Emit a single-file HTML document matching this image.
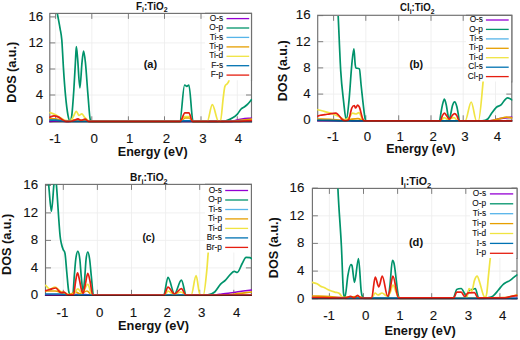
<!DOCTYPE html><html><head><meta charset="utf-8"><style>html,body{margin:0;padding:0;background:#fff;}svg{display:block;}text{font-family:"Liberation Sans",sans-serif;}</style></head><body>
<svg width="520" height="340" viewBox="0 0 520 340">
<rect width="520" height="340" fill="#fff"/>
<defs><clipPath id="c0"><rect x="49.20" y="13.4" width="202.90" height="109.30"/></clipPath></defs>
<path d="M49.8 16.9H251.5 M49.8 42.9H251.5 M49.8 69.0H251.5 M49.8 95.0H251.5 M55.6 13.4V121.8 M91.8 13.4V121.8 M128.4 13.4V121.8 M164.5 13.4V121.8 M201.0 13.4V121.8 M237.3 13.4V121.8" stroke="#ececec" stroke-width="0.8" fill="none"/>
<path d="M49.8 16.9h5.5M251.5 16.9h-5.5 M49.8 42.9h5.5M251.5 42.9h-5.5 M49.8 69.0h5.5M251.5 69.0h-5.5 M49.8 95.0h5.5M251.5 95.0h-5.5 M49.8 121.0h5.5M251.5 121.0h-5.5 M55.6 121.8v-5.5M55.6 13.4v5.5 M91.8 121.8v-5.5M91.8 13.4v5.5 M128.4 121.8v-5.5M128.4 13.4v5.5 M164.5 121.8v-5.5M164.5 13.4v5.5 M201.0 121.8v-5.5M201.0 13.4v5.5 M237.3 121.8v-5.5M237.3 13.4v5.5" stroke="#707070" stroke-width="0.9" fill="none"/>
<rect x="49.8" y="13.4" width="201.70" height="108.40" fill="none" stroke="#707070" stroke-width="1.15"/>
<g clip-path="url(#c0)" fill="none" stroke-width="1.7" stroke-linejoin="round" stroke-linecap="round" transform="translate(0,0.4)">
<path d="M49.80,121.00 C53.20,120.87 56.60,120.60 60.00,120.60 C62.00,120.60 64.00,121.00 66.00,121.00 C68.67,121.00 71.33,120.33 74.00,120.00 C75.33,119.83 76.67,119.50 78.00,119.50 C79.33,119.50 80.67,120.20 82.00,120.20 C83.33,120.20 84.67,119.80 86.00,119.80 C87.33,119.80 88.67,121.00 90.00,121.00 C137.33,121.00 184.67,121.00 232.00,121.00 C233.33,121.00 234.67,120.13 236.00,119.80 C238.00,119.30 240.00,118.91 242.00,118.60 C245.17,118.12 248.33,117.93 251.50,117.60" stroke="#9400d3"/>
<path d="M56.80,10.00 C57.00,11.13 57.20,12.29 57.40,13.40 C58.30,18.42 59.20,22.74 60.10,28.20 C60.67,31.64 61.23,33.01 61.80,39.50 C62.07,42.55 62.33,47.92 62.60,52.50 C62.87,57.08 63.13,62.81 63.40,67.00 C64.10,78.01 64.80,87.53 65.50,95.00 C66.33,103.89 67.17,110.46 68.00,115.00 C68.63,118.45 69.27,120.50 69.90,120.50 C70.53,120.50 71.17,119.87 71.80,115.00 C72.47,109.87 73.13,100.00 73.80,90.00 C74.33,82.00 74.87,71.32 75.40,62.00 C75.70,56.76 76.00,46.30 76.30,46.30 C76.73,46.30 77.17,53.27 77.60,58.00 C78.37,66.37 79.13,87.50 79.90,87.50 C80.60,87.50 81.30,68.70 82.00,62.00 C82.53,56.90 83.07,50.80 83.60,50.80 C84.20,50.80 84.80,56.33 85.40,62.00 C86.27,70.20 87.13,84.88 88.00,95.00 C88.77,103.95 89.53,117.20 90.30,119.50 C90.80,121.00 91.30,121.00 91.80,121.00 C121.13,121.00 150.47,121.00 179.80,121.00 C181.40,121.00 183.00,84.60 184.60,84.60 C185.33,84.60 186.07,85.90 186.80,85.90 C187.50,85.90 188.20,84.60 188.90,84.60 C190.23,84.60 191.57,118.68 192.90,120.50 C193.27,121.00 193.63,121.00 194.00,121.00 C203.73,121.00 213.47,121.00 223.20,121.00 C226.37,121.00 229.53,119.25 232.70,117.40 C234.27,116.49 235.83,115.40 237.40,113.70 C238.63,112.36 239.87,109.86 241.10,108.60 C242.37,107.31 243.63,107.06 244.90,106.10 C245.83,105.39 246.77,104.65 247.70,103.70 C248.97,102.41 250.23,100.70 251.50,99.20" stroke="#00936b"/>
<path d="M49.80,118.50 C51.53,118.50 53.27,118.50 55.00,118.50 C56.67,118.50 58.33,119.12 60.00,119.50 C62.00,119.95 64.00,121.00 66.00,121.00 C69.33,121.00 72.67,119.50 76.00,119.50 C78.67,119.50 81.33,119.69 84.00,120.00 C86.00,120.23 88.00,121.00 90.00,121.00 C120.33,121.00 150.67,121.00 181.00,121.00 C182.33,121.00 183.67,117.50 185.00,117.50 C186.33,117.50 187.67,117.50 189.00,117.50 C190.33,117.50 191.67,121.00 193.00,121.00 C204.67,121.00 216.33,121.00 228.00,121.00 C232.00,121.00 236.00,120.38 240.00,120.00 C243.83,119.64 247.67,119.20 251.50,118.80" stroke="#e69f00"/>
<path d="M49.80,112.20 C51.53,112.80 53.27,113.18 55.00,114.00 C56.67,114.79 58.33,116.00 60.00,117.00 C61.67,118.00 63.33,119.50 65.00,120.00 C66.67,120.50 68.33,120.50 70.00,120.50 C71.00,120.50 72.00,118.51 73.00,117.00 C74.10,115.34 75.20,110.90 76.30,110.90 C77.20,110.90 78.10,114.90 79.00,114.90 C79.93,114.90 80.87,113.50 81.80,113.50 C82.70,113.50 83.60,115.74 84.50,116.70 C85.67,117.94 86.83,119.26 88.00,120.00 C89.00,120.64 90.00,121.00 91.00,121.00 C120.83,121.00 150.67,121.00 180.50,121.00 C181.87,121.00 183.23,116.30 184.60,116.30 C186.07,116.30 187.53,116.30 189.00,116.30 C190.33,116.30 191.67,121.00 193.00,121.00 C197.73,121.00 202.47,121.00 207.20,121.00 C208.90,121.00 210.60,104.30 212.30,104.30 C214.37,104.30 216.43,121.00 218.50,121.00 C219.13,121.00 219.77,121.00 220.40,121.00 C221.33,121.00 222.27,104.88 223.20,97.70 C223.73,93.60 224.27,88.39 224.80,86.40 C225.53,83.67 226.27,84.48 227.00,83.50 C227.63,82.66 228.27,82.87 228.90,80.30 C229.43,78.13 229.97,73.43 230.50,70.00" stroke="#f0e442"/>
<path d="M49.80,119.60 C51.87,119.67 53.93,119.63 56.00,119.80 C58.00,119.97 60.00,120.40 62.00,120.60 C64.00,120.80 66.00,121.00 68.00,121.00 C105.33,121.00 142.67,121.00 180.00,121.00 C181.33,121.00 182.67,120.40 184.00,120.40 C186.00,120.40 188.00,120.40 190.00,120.40 C191.33,120.40 192.67,121.00 194.00,121.00 C213.17,121.00 232.33,121.00 251.50,121.00" stroke="#0072b2"/>
<path d="M49.80,116.70 C51.20,116.30 52.60,115.50 54.00,115.50 C55.33,115.50 56.67,115.92 58.00,116.50 C59.33,117.08 60.67,118.25 62.00,119.00 C63.33,119.75 64.67,121.00 66.00,121.00 C67.33,121.00 68.67,121.00 70.00,121.00 C71.33,121.00 72.67,120.42 74.00,120.00 C75.33,119.58 76.67,118.50 78.00,118.50 C79.00,118.50 80.00,120.00 81.00,120.00 C82.33,120.00 83.67,118.80 85.00,118.80 C86.33,118.80 87.67,121.00 89.00,121.00 C119.40,121.00 149.80,121.00 180.20,121.00 C181.77,121.00 183.33,112.50 184.90,112.50 C186.23,112.50 187.57,112.50 188.90,112.50 C190.10,112.50 191.30,121.00 192.50,121.00 C208.33,121.00 224.17,121.00 240.00,121.00 C243.83,121.00 247.67,120.47 251.50,120.20" stroke="#e51e10"/>
</g>
<rect x="205" y="13.4" width="46.5" height="66.9" fill="#fff"/>
<path d="M205 13.4H251.5V81.3" fill="none" stroke="#707070" stroke-width="1.15"/>
<path d="M49.2 122.0H252.1" fill="none" stroke="#000" stroke-opacity="0.45" stroke-width="1.1"/>
<text x="43.2" y="20.7" font-size="13.3" text-anchor="end" fill="#111" stroke="#111" stroke-width="0.1">16</text>
<text x="43.2" y="46.7" font-size="13.3" text-anchor="end" fill="#111" stroke="#111" stroke-width="0.1">12</text>
<text x="43.2" y="72.8" font-size="13.3" text-anchor="end" fill="#111" stroke="#111" stroke-width="0.1">8</text>
<text x="43.2" y="98.8" font-size="13.3" text-anchor="end" fill="#111" stroke="#111" stroke-width="0.1">4</text>
<text x="43.2" y="124.8" font-size="13.3" text-anchor="end" fill="#111" stroke="#111" stroke-width="0.1">0</text>
<text x="55.1" y="143.2" font-size="13.3" text-anchor="middle" fill="#111" stroke="#111" stroke-width="0.1">-1</text>
<text x="94.2" y="143.2" font-size="13.3" text-anchor="middle" fill="#111" stroke="#111" stroke-width="0.1">0</text>
<text x="129.8" y="143.2" font-size="13.3" text-anchor="middle" fill="#111" stroke="#111" stroke-width="0.1">1</text>
<text x="166.5" y="143.2" font-size="13.3" text-anchor="middle" fill="#111" stroke="#111" stroke-width="0.1">2</text>
<text x="203.0" y="143.2" font-size="13.3" text-anchor="middle" fill="#111" stroke="#111" stroke-width="0.1">3</text>
<text x="238.5" y="143.2" font-size="13.3" text-anchor="middle" fill="#111" stroke="#111" stroke-width="0.1">4</text>
<text transform="translate(15.5,72.25) rotate(-90)" x="0" y="0" font-size="12.5" font-weight="bold" text-anchor="middle" fill="#111" textLength="61" lengthAdjust="spacingAndGlyphs">DOS (a.u.)</text>
<text x="117.8" y="155.7" font-size="12.5" font-weight="bold" fill="#111" textLength="69.8" lengthAdjust="spacingAndGlyphs">Energy (eV)</text>
<text x="135.9" y="9.5" font-size="10.7" font-weight="bold" fill="#111" textLength="31.7" lengthAdjust="spacingAndGlyphs">F<tspan font-size="7.5" dy="2.8">i</tspan><tspan dy="-2.8">:TiO</tspan><tspan font-size="7.5" dy="2.8">2</tspan></text>
<text x="143.7" y="67.5" font-size="11.3" font-weight="bold" fill="#111" textLength="13.4" lengthAdjust="spacingAndGlyphs">(a)</text>
<text x="223.2" y="20.7" font-size="8.3" text-anchor="end" fill="#111" stroke="#111" stroke-width="0.1">O-s</text>
<path d="M226.5 18.6H249.2" stroke="#9400d3" stroke-width="1.3"/>
<text x="223.2" y="30.1" font-size="8.3" text-anchor="end" fill="#111" stroke="#111" stroke-width="0.1">O-p</text>
<path d="M226.5 28.0H249.2" stroke="#00936b" stroke-width="1.3"/>
<text x="223.2" y="39.5" font-size="8.3" text-anchor="end" fill="#111" stroke="#111" stroke-width="0.1">Ti-s</text>
<path d="M226.5 37.4H249.2" stroke="#56b4e9" stroke-width="1.3"/>
<text x="223.2" y="49.0" font-size="8.3" text-anchor="end" fill="#111" stroke="#111" stroke-width="0.1">Ti-p</text>
<path d="M226.5 46.9H249.2" stroke="#e69f00" stroke-width="1.3"/>
<text x="223.2" y="58.4" font-size="8.3" text-anchor="end" fill="#111" stroke="#111" stroke-width="0.1">Ti-d</text>
<path d="M226.5 56.3H249.2" stroke="#f0e442" stroke-width="1.3"/>
<text x="223.2" y="67.8" font-size="8.3" text-anchor="end" fill="#111" stroke="#111" stroke-width="0.1">F-s</text>
<path d="M226.5 65.7H249.2" stroke="#0072b2" stroke-width="1.3"/>
<text x="223.2" y="77.2" font-size="8.3" text-anchor="end" fill="#111" stroke="#111" stroke-width="0.1">F-p</text>
<path d="M226.5 75.1H249.2" stroke="#e51e10" stroke-width="1.3"/>
<defs><clipPath id="c1"><rect x="317.10" y="15.3" width="195.30" height="106.40"/></clipPath></defs>
<path d="M317.7 41.7H511.8 M317.7 67.9H511.8 M317.7 94.1H511.8 M333.6 15.3V120.8 M365.8 15.3V120.8 M398.7 15.3V120.8 M431.0 15.3V120.8 M463.2 15.3V120.8 M495.5 15.3V120.8" stroke="#ececec" stroke-width="0.8" fill="none"/>
<path d="M317.7 15.6h5.5M511.8 15.6h-5.5 M317.7 41.7h5.5M511.8 41.7h-5.5 M317.7 67.9h5.5M511.8 67.9h-5.5 M317.7 94.1h5.5M511.8 94.1h-5.5 M317.7 120.2h5.5M511.8 120.2h-5.5 M333.6 120.8v-5.5M333.6 15.3v5.5 M365.8 120.8v-5.5M365.8 15.3v5.5 M398.7 120.8v-5.5M398.7 15.3v5.5 M431.0 120.8v-5.5M431.0 15.3v5.5 M463.2 120.8v-5.5M463.2 15.3v5.5 M495.5 120.8v-5.5M495.5 15.3v5.5" stroke="#707070" stroke-width="0.9" fill="none"/>
<rect x="317.7" y="15.3" width="194.10" height="105.50" fill="none" stroke="#707070" stroke-width="1.15"/>
<g clip-path="url(#c1)" fill="none" stroke-width="1.7" stroke-linejoin="round" stroke-linecap="round" transform="translate(0,0.6)">
<path d="M317.70,120.00 C325.13,120.00 332.57,120.00 340.00,120.00 C342.00,120.00 344.00,119.20 346.00,119.20 C348.00,119.20 350.00,120.20 352.00,120.20 C398.00,120.20 444.00,120.20 490.00,120.20 C491.33,120.20 492.67,119.88 494.00,119.60 C496.00,119.18 498.00,118.39 500.00,118.00 C504.00,117.22 508.00,117.00 512.00,116.50" stroke="#9400d3"/>
<path d="M337.90,10.00 C338.00,11.93 338.10,13.75 338.20,15.80 C339.03,32.89 339.87,56.50 340.70,70.00 C341.63,85.12 342.57,91.77 343.50,100.00 C344.43,108.23 345.37,119.40 346.30,119.40 C347.20,119.40 348.10,109.02 349.00,100.00 C349.93,90.65 350.87,73.49 351.80,64.00 C352.50,56.88 353.20,48.30 353.90,48.30 C354.33,48.30 354.77,60.46 355.20,64.00 C355.47,66.18 355.73,67.31 356.00,67.40 C357.13,67.78 358.27,67.48 359.40,68.30 C359.97,68.71 360.53,79.23 361.10,84.40 C362.27,95.04 363.43,106.85 364.60,115.10 C364.87,116.99 365.13,118.82 365.40,119.40 C365.77,120.20 366.13,120.20 366.50,120.20 C390.83,120.20 415.17,120.20 439.50,120.20 C440.00,120.20 440.50,114.70 441.00,112.00 C441.50,109.30 442.00,106.04 442.50,104.00 C443.13,101.41 443.77,98.60 444.40,98.60 C445.00,98.60 445.60,101.30 446.20,104.00 C446.70,106.25 447.20,110.43 447.70,113.00 C448.20,115.57 448.70,119.40 449.20,119.40 C449.73,119.40 450.27,115.32 450.80,113.00 C451.37,110.53 451.93,106.81 452.50,105.00 C453.23,102.66 453.97,101.30 454.70,101.30 C455.40,101.30 456.10,103.47 456.80,106.00 C457.27,107.69 457.73,110.43 458.20,113.00 C458.60,115.20 459.00,120.20 459.40,120.20 C466.97,120.20 474.53,120.20 482.10,120.20 C484.00,120.20 485.90,120.12 487.80,118.40 C489.07,117.25 490.33,114.46 491.60,112.70 C493.17,110.53 494.73,108.10 496.30,106.70 C497.87,105.30 499.43,105.72 501.00,104.30 C502.23,103.19 503.47,100.77 504.70,99.50 C505.67,98.51 506.63,97.30 507.60,97.30 C509.07,97.30 510.53,98.63 512.00,99.30" stroke="#00936b"/>
<path d="M317.70,118.50 C321.80,118.60 325.90,118.59 330.00,118.80 C335.00,119.06 340.00,120.00 345.00,120.00 C347.33,120.00 349.67,118.85 352.00,118.50 C354.00,118.20 356.00,118.00 358.00,118.00 C360.00,118.00 362.00,120.20 364.00,120.20 C405.33,120.20 446.67,120.20 488.00,120.20 C489.20,120.20 490.40,120.09 491.60,119.90 C494.40,119.47 497.20,118.63 500.00,118.00 C502.20,117.50 504.40,116.50 506.60,116.50 C508.40,116.50 510.20,117.10 512.00,117.40" stroke="#e69f00"/>
<path d="M317.70,109.10 C320.13,109.73 322.57,110.32 325.00,111.00 C327.67,111.75 330.33,112.41 333.00,113.40 C335.33,114.27 337.67,115.42 340.00,116.50 C341.67,117.27 343.33,118.90 345.00,118.90 C346.33,118.90 347.67,118.13 349.00,117.00 C350.20,115.98 351.40,112.60 352.60,112.60 C353.73,112.60 354.87,113.40 356.00,113.40 C357.00,113.40 358.00,112.00 359.00,112.00 C360.00,112.00 361.00,116.63 362.00,118.00 C363.00,119.37 364.00,120.20 365.00,120.20 C390.33,120.20 415.67,120.20 441.00,120.20 C442.00,120.20 443.00,117.00 444.00,117.00 C445.33,117.00 446.67,119.00 448.00,119.00 C450.00,119.00 452.00,117.00 454.00,117.00 C455.33,117.00 456.67,120.20 458.00,120.20 C460.40,120.20 462.80,120.20 465.20,120.20 C467.20,120.20 469.20,101.40 471.20,101.40 C472.97,101.40 474.73,120.20 476.50,120.20 C477.13,120.20 477.77,120.20 478.40,120.20 C479.97,120.20 481.53,97.28 483.10,81.10 C483.40,78.00 483.70,73.70 484.00,70.00" stroke="#f0e442"/>
<path d="M317.70,119.60 C321.80,119.67 325.90,119.71 330.00,119.80 C335.00,119.91 340.00,120.20 345.00,120.20 C400.67,120.20 456.33,120.20 512.00,120.20" stroke="#0072b2"/>
<path d="M317.70,115.60 C318.57,115.27 319.43,114.82 320.30,114.60 C321.87,114.20 323.43,114.23 325.00,114.00 C326.67,113.76 328.33,113.42 330.00,113.20 C331.87,112.95 333.73,112.60 335.60,112.60 C336.40,112.60 337.20,113.32 338.00,114.00 C339.47,115.24 340.93,117.77 342.40,118.90 C343.27,119.57 344.13,120.00 345.00,120.00 C346.13,120.00 347.27,120.00 348.40,119.40 C349.53,118.80 350.67,109.97 351.80,107.40 C352.63,105.51 353.47,104.90 354.30,104.90 C354.70,104.90 355.10,107.40 355.50,107.40 C356.23,107.40 356.97,104.50 357.70,104.50 C358.27,104.50 358.83,105.26 359.40,106.60 C360.53,109.28 361.67,115.95 362.80,118.50 C363.37,119.77 363.93,120.20 364.50,120.20 C389.77,120.20 415.03,120.20 440.30,120.20 C440.93,120.20 441.57,116.72 442.20,115.50 C442.93,114.09 443.67,112.50 444.40,112.50 C445.10,112.50 445.80,114.06 446.50,115.00 C447.17,115.90 447.83,117.26 448.50,118.00 C448.73,118.26 448.97,118.50 449.20,118.50 C449.63,118.50 450.07,117.99 450.50,117.50 C451.17,116.74 451.83,115.23 452.50,114.50 C453.23,113.70 453.97,113.00 454.70,113.00 C455.40,113.00 456.10,113.91 456.80,115.00 C457.60,116.25 458.40,120.20 459.20,120.20 C476.80,120.20 494.40,120.20 512.00,120.20" stroke="#e51e10"/>
</g>
<rect x="466" y="15.3" width="45.8" height="66.2" fill="#fff"/>
<path d="M466 15.3H511.8V82.5" fill="none" stroke="#707070" stroke-width="1.15"/>
<path d="M317.1 121.0H512.4" fill="none" stroke="#000" stroke-opacity="0.45" stroke-width="1.1"/>
<text x="310.6" y="19.4" font-size="13.3" text-anchor="end" fill="#111" stroke="#111" stroke-width="0.1">16</text>
<text x="310.6" y="45.5" font-size="13.3" text-anchor="end" fill="#111" stroke="#111" stroke-width="0.1">12</text>
<text x="310.6" y="71.7" font-size="13.3" text-anchor="end" fill="#111" stroke="#111" stroke-width="0.1">8</text>
<text x="310.6" y="97.9" font-size="13.3" text-anchor="end" fill="#111" stroke="#111" stroke-width="0.1">4</text>
<text x="310.6" y="124.0" font-size="13.3" text-anchor="end" fill="#111" stroke="#111" stroke-width="0.1">0</text>
<text x="333.0" y="141.1" font-size="13.3" text-anchor="middle" fill="#111" stroke="#111" stroke-width="0.1">-1</text>
<text x="367.5" y="141.1" font-size="13.3" text-anchor="middle" fill="#111" stroke="#111" stroke-width="0.1">0</text>
<text x="400.3" y="141.1" font-size="13.3" text-anchor="middle" fill="#111" stroke="#111" stroke-width="0.1">1</text>
<text x="433.1" y="141.1" font-size="13.3" text-anchor="middle" fill="#111" stroke="#111" stroke-width="0.1">2</text>
<text x="465.0" y="141.1" font-size="13.3" text-anchor="middle" fill="#111" stroke="#111" stroke-width="0.1">3</text>
<text x="497.4" y="141.1" font-size="13.3" text-anchor="middle" fill="#111" stroke="#111" stroke-width="0.1">4</text>
<text transform="translate(287.1,70.8) rotate(-90)" x="0" y="0" font-size="12.5" font-weight="bold" text-anchor="middle" fill="#111" textLength="61" lengthAdjust="spacingAndGlyphs">DOS (a.u.)</text>
<text x="386.2" y="153.0" font-size="12.5" font-weight="bold" fill="#111" textLength="69.1" lengthAdjust="spacingAndGlyphs">Energy (eV)</text>
<text x="400.1" y="10.8" font-size="10.7" font-weight="bold" fill="#111" textLength="34.3" lengthAdjust="spacingAndGlyphs">Cl<tspan font-size="7.5" dy="2.8">i</tspan><tspan dy="-2.8">:TiO</tspan><tspan font-size="7.5" dy="2.8">2</tspan></text>
<text x="409.4" y="67.6" font-size="11.3" font-weight="bold" fill="#111" textLength="13.7" lengthAdjust="spacingAndGlyphs">(b)</text>
<text x="483.0" y="22.1" font-size="8.3" text-anchor="end" fill="#111" stroke="#111" stroke-width="0.1">O-s</text>
<path d="M485.9 20.0H508.7" stroke="#9400d3" stroke-width="1.3"/>
<text x="483.0" y="31.5" font-size="8.3" text-anchor="end" fill="#111" stroke="#111" stroke-width="0.1">O-p</text>
<path d="M485.9 29.4H508.7" stroke="#00936b" stroke-width="1.3"/>
<text x="483.0" y="41.0" font-size="8.3" text-anchor="end" fill="#111" stroke="#111" stroke-width="0.1">Ti-s</text>
<path d="M485.9 38.9H508.7" stroke="#56b4e9" stroke-width="1.3"/>
<text x="483.0" y="50.4" font-size="8.3" text-anchor="end" fill="#111" stroke="#111" stroke-width="0.1">Ti-p</text>
<path d="M485.9 48.3H508.7" stroke="#e69f00" stroke-width="1.3"/>
<text x="483.0" y="59.8" font-size="8.3" text-anchor="end" fill="#111" stroke="#111" stroke-width="0.1">Ti-d</text>
<path d="M485.9 57.7H508.7" stroke="#f0e442" stroke-width="1.3"/>
<text x="483.0" y="69.2" font-size="8.3" text-anchor="end" fill="#111" stroke="#111" stroke-width="0.1">Cl-s</text>
<path d="M485.9 67.2H508.7" stroke="#0072b2" stroke-width="1.3"/>
<text x="483.0" y="78.7" font-size="8.3" text-anchor="end" fill="#111" stroke="#111" stroke-width="0.1">Cl-p</text>
<path d="M485.9 76.6H508.7" stroke="#e51e10" stroke-width="1.3"/>
<defs><clipPath id="c2"><rect x="44.90" y="184.4" width="207.10" height="111.80"/></clipPath></defs>
<path d="M45.5 212.9H251.4 M45.5 240.4H251.4 M45.5 267.9H251.4 M63.3 184.4V295.3 M97.4 184.4V295.3 M131.5 184.4V295.3 M165.6 184.4V295.3 M199.7 184.4V295.3 M233.8 184.4V295.3" stroke="#ececec" stroke-width="0.8" fill="none"/>
<path d="M45.5 185.4h5.5M251.4 185.4h-5.5 M45.5 212.9h5.5M251.4 212.9h-5.5 M45.5 240.4h5.5M251.4 240.4h-5.5 M45.5 267.9h5.5M251.4 267.9h-5.5 M45.5 295.4h5.5M251.4 295.4h-5.5 M63.3 295.3v-5.5M63.3 184.4v5.5 M97.4 295.3v-5.5M97.4 184.4v5.5 M131.5 295.3v-5.5M131.5 184.4v5.5 M165.6 295.3v-5.5M165.6 184.4v5.5 M199.7 295.3v-5.5M199.7 184.4v5.5 M233.8 295.3v-5.5M233.8 184.4v5.5" stroke="#707070" stroke-width="0.9" fill="none"/>
<rect x="45.5" y="184.4" width="205.90" height="110.90" fill="none" stroke="#707070" stroke-width="1.15"/>
<g clip-path="url(#c2)" fill="none" stroke-width="1.7" stroke-linejoin="round" stroke-linecap="round" transform="translate(0,0)">
<path d="M45.50,295.00 C53.67,295.00 61.83,295.00 70.00,295.00 C73.33,295.00 76.67,294.00 80.00,294.00 C83.33,294.00 86.67,295.00 90.00,295.00 C131.57,295.00 173.13,295.00 214.70,295.00 C217.13,295.00 219.57,294.32 222.00,294.00 C224.67,293.65 227.33,293.37 230.00,293.00 C233.33,292.54 236.67,291.97 240.00,291.50 C243.80,290.96 247.60,290.50 251.40,290.00" stroke="#9400d3"/>
<path d="M48.00,180.00 C48.20,181.47 48.40,182.71 48.60,184.40 C49.53,192.29 50.47,211.20 51.40,211.20 C52.23,211.20 53.07,193.45 53.90,184.40 C54.03,182.95 54.17,180.00 54.30,180.00 C54.87,180.00 55.43,180.00 56.00,180.00 C56.13,180.00 56.27,182.74 56.40,184.40 C57.63,199.78 58.87,223.65 60.10,236.00 C60.50,240.01 60.90,241.41 61.30,243.30 C61.93,246.29 62.57,248.22 63.20,249.70 C63.80,251.10 64.40,249.99 65.00,253.30 C65.60,256.61 66.20,266.27 66.80,272.50 C67.40,278.73 68.00,287.02 68.60,290.70 C69.23,294.59 69.87,294.80 70.50,294.80 C71.27,294.80 72.03,294.80 72.80,294.80 C73.30,294.80 73.80,281.97 74.30,276.00 C74.80,270.03 75.30,262.80 75.80,259.00 C76.47,253.94 77.13,251.30 77.80,251.30 C78.47,251.30 79.13,253.72 79.80,259.00 C80.30,262.96 80.80,271.97 81.30,277.00 C81.90,283.03 82.50,291.60 83.10,291.60 C83.67,291.60 84.23,283.45 84.80,277.00 C85.20,272.45 85.60,263.72 86.00,260.00 C86.60,254.42 87.20,252.00 87.80,252.00 C88.40,252.00 89.00,254.83 89.60,259.00 C90.17,262.94 90.73,270.63 91.30,276.00 C92.00,282.63 92.70,294.28 93.40,294.80 C93.93,295.20 94.47,295.20 95.00,295.20 C117.90,295.20 140.80,295.20 163.70,295.20 C165.13,295.20 166.57,277.30 168.00,277.30 C170.17,277.30 172.33,293.90 174.50,293.90 C176.80,293.90 179.10,280.20 181.40,280.20 C183.03,280.20 184.67,295.20 186.30,295.20 C193.17,295.20 200.03,295.20 206.90,295.20 C209.50,295.20 212.10,294.27 214.70,292.00 C216.67,290.28 218.63,286.20 220.60,284.10 C222.23,282.36 223.87,281.83 225.50,280.20 C227.13,278.57 228.77,275.89 230.40,274.30 C231.70,273.03 233.00,271.40 234.30,271.40 C235.30,271.40 236.30,272.40 237.30,272.40 C238.93,272.40 240.57,266.28 242.20,263.50 C243.50,261.29 244.80,257.30 246.10,257.30 C247.40,257.30 248.70,257.30 250.00,257.60 C250.47,257.71 250.93,258.27 251.40,258.60" stroke="#00936b"/>
<path d="M45.50,291.00 C48.67,291.00 51.83,291.00 55.00,291.00 C57.33,291.00 59.67,292.28 62.00,293.00 C64.00,293.62 66.00,295.00 68.00,295.00 C70.67,295.00 73.33,292.00 76.00,292.00 C77.33,292.00 78.67,294.00 80.00,294.00 C82.33,294.00 84.67,291.00 87.00,291.00 C88.67,291.00 90.33,294.98 92.00,295.00 C134.20,295.50 176.40,295.50 218.60,295.50 C224.07,295.50 229.53,294.58 235.00,294.00 C240.47,293.42 245.93,292.67 251.40,292.00" stroke="#e69f00"/>
<path d="M45.50,285.30 C47.00,286.53 48.50,289.00 50.00,289.00 C51.67,289.00 53.33,287.00 55.00,287.00 C56.67,287.00 58.33,290.00 60.00,291.00 C61.67,292.00 63.33,292.33 65.00,293.00 C66.67,293.67 68.33,295.00 70.00,295.00 C71.33,295.00 72.67,295.00 74.00,294.00 C75.27,293.05 76.53,288.90 77.80,288.90 C79.20,288.90 80.60,293.00 82.00,293.00 C83.93,293.00 85.87,284.40 87.80,284.40 C89.20,284.40 90.60,295.00 92.00,295.00 C116.33,295.00 140.67,295.00 165.00,295.00 C166.00,295.00 167.00,291.00 168.00,291.00 C170.00,291.00 172.00,294.50 174.00,294.50 C176.33,294.50 178.67,292.00 181.00,292.00 C182.67,292.00 184.33,295.00 186.00,295.00 C187.73,295.00 189.47,295.00 191.20,295.00 C192.83,295.00 194.47,275.70 196.10,275.70 C197.40,275.70 198.70,295.00 200.00,295.00 C201.10,295.00 202.20,295.00 203.30,295.00 C204.50,295.00 205.70,281.37 206.90,269.40 C207.33,265.08 207.77,257.57 208.20,252.70 C208.47,249.70 208.73,247.57 209.00,245.00" stroke="#f0e442"/>
<path d="M45.50,294.00 C50.33,294.00 55.17,294.00 60.00,294.00 C63.33,294.00 66.67,295.00 70.00,295.00 C130.47,295.00 190.93,295.00 251.40,295.00" stroke="#0072b2"/>
<path d="M45.50,290.70 C47.00,290.30 48.50,289.89 50.00,289.50 C51.97,288.99 53.93,288.00 55.90,288.00 C56.80,288.00 57.70,289.93 58.60,290.70 C59.50,291.47 60.40,292.60 61.30,292.60 C62.23,292.60 63.17,292.20 64.10,292.20 C65.30,292.20 66.50,294.80 67.70,294.80 C69.67,294.80 71.63,294.80 73.60,294.80 C74.23,294.80 74.87,285.59 75.50,282.00 C76.17,278.22 76.83,272.80 77.50,272.80 C78.17,272.80 78.83,277.13 79.50,280.00 C80.17,282.87 80.83,287.67 81.50,290.00 C82.03,291.87 82.57,293.20 83.10,293.20 C83.73,293.20 84.37,288.62 85.00,286.00 C85.93,282.13 86.87,273.40 87.80,273.40 C88.60,273.40 89.40,278.43 90.20,282.00 C91.00,285.57 91.80,294.79 92.60,294.80 C116.40,295.00 140.20,295.00 164.00,295.00 C165.33,295.00 166.67,287.10 168.00,287.10 C170.17,287.10 172.33,294.00 174.50,294.00 C176.80,294.00 179.10,288.60 181.40,288.60 C182.93,288.60 184.47,295.00 186.00,295.00 C207.80,295.00 229.60,295.00 251.40,295.00" stroke="#e51e10"/>
</g>
<rect x="205" y="184.4" width="46.4" height="68.1" fill="#fff"/>
<path d="M205 184.4H251.4V253.5" fill="none" stroke="#707070" stroke-width="1.15"/>
<path d="M44.9 295.5H252.0" fill="none" stroke="#000" stroke-opacity="0.45" stroke-width="1.1"/>
<text x="38.1" y="189.2" font-size="13.3" text-anchor="end" fill="#111" stroke="#111" stroke-width="0.1">16</text>
<text x="38.1" y="216.7" font-size="13.3" text-anchor="end" fill="#111" stroke="#111" stroke-width="0.1">12</text>
<text x="38.1" y="244.2" font-size="13.3" text-anchor="end" fill="#111" stroke="#111" stroke-width="0.1">8</text>
<text x="38.1" y="271.7" font-size="13.3" text-anchor="end" fill="#111" stroke="#111" stroke-width="0.1">4</text>
<text x="38.1" y="299.2" font-size="13.3" text-anchor="end" fill="#111" stroke="#111" stroke-width="0.1">0</text>
<text x="62.4" y="316.8" font-size="13.3" text-anchor="middle" fill="#111" stroke="#111" stroke-width="0.1">-1</text>
<text x="99.6" y="316.8" font-size="13.3" text-anchor="middle" fill="#111" stroke="#111" stroke-width="0.1">0</text>
<text x="133.4" y="316.8" font-size="13.3" text-anchor="middle" fill="#111" stroke="#111" stroke-width="0.1">1</text>
<text x="167.1" y="316.8" font-size="13.3" text-anchor="middle" fill="#111" stroke="#111" stroke-width="0.1">2</text>
<text x="201.7" y="316.8" font-size="13.3" text-anchor="middle" fill="#111" stroke="#111" stroke-width="0.1">3</text>
<text x="236.7" y="316.8" font-size="13.3" text-anchor="middle" fill="#111" stroke="#111" stroke-width="0.1">4</text>
<text transform="translate(11.0,244.4) rotate(-90)" x="0" y="0" font-size="12.5" font-weight="bold" text-anchor="middle" fill="#111" textLength="61" lengthAdjust="spacingAndGlyphs">DOS (a.u.)</text>
<text x="118.1" y="329.9" font-size="12.5" font-weight="bold" fill="#111" textLength="70.9" lengthAdjust="spacingAndGlyphs">Energy (eV)</text>
<text x="130.1" y="181.3" font-size="10.7" font-weight="bold" fill="#111" textLength="37.5" lengthAdjust="spacingAndGlyphs">Br<tspan font-size="7.5" dy="2.8">i</tspan><tspan dy="-2.8">:TiO</tspan><tspan font-size="7.5" dy="2.8">2</tspan></text>
<text x="142.4" y="241.4" font-size="11.3" font-weight="bold" fill="#111" textLength="12.4" lengthAdjust="spacingAndGlyphs">(c)</text>
<text x="222.0" y="192.6" font-size="8.3" text-anchor="end" fill="#111" stroke="#111" stroke-width="0.1">O-s</text>
<path d="M225.2 190.5H248.1" stroke="#9400d3" stroke-width="1.3"/>
<text x="222.0" y="202.1" font-size="8.3" text-anchor="end" fill="#111" stroke="#111" stroke-width="0.1">O-p</text>
<path d="M225.2 200.0H248.1" stroke="#00936b" stroke-width="1.3"/>
<text x="222.0" y="211.6" font-size="8.3" text-anchor="end" fill="#111" stroke="#111" stroke-width="0.1">Ti-s</text>
<path d="M225.2 209.5H248.1" stroke="#56b4e9" stroke-width="1.3"/>
<text x="222.0" y="221.0" font-size="8.3" text-anchor="end" fill="#111" stroke="#111" stroke-width="0.1">Ti-p</text>
<path d="M225.2 218.9H248.1" stroke="#e69f00" stroke-width="1.3"/>
<text x="222.0" y="230.5" font-size="8.3" text-anchor="end" fill="#111" stroke="#111" stroke-width="0.1">Ti-d</text>
<path d="M225.2 228.4H248.1" stroke="#f0e442" stroke-width="1.3"/>
<text x="222.0" y="240.0" font-size="8.3" text-anchor="end" fill="#111" stroke="#111" stroke-width="0.1">Br-s</text>
<path d="M225.2 237.9H248.1" stroke="#0072b2" stroke-width="1.3"/>
<text x="222.0" y="249.5" font-size="8.3" text-anchor="end" fill="#111" stroke="#111" stroke-width="0.1">Br-p</text>
<path d="M225.2 247.4H248.1" stroke="#e51e10" stroke-width="1.3"/>
<defs><clipPath id="c3"><rect x="311.80" y="188.4" width="205.80" height="111.20"/></clipPath></defs>
<path d="M312.4 215.8H517.0 M312.4 243.4H517.0 M312.4 271.1H517.0 M329.4 188.4V298.7 M363.5 188.4V298.7 M397.6 188.4V298.7 M431.7 188.4V298.7 M465.8 188.4V298.7 M499.9 188.4V298.7" stroke="#ececec" stroke-width="0.8" fill="none"/>
<path d="M312.4 188.1h5.5M517.0 188.1h-5.5 M312.4 215.8h5.5M517.0 215.8h-5.5 M312.4 243.4h5.5M517.0 243.4h-5.5 M312.4 271.1h5.5M517.0 271.1h-5.5 M312.4 298.7h5.5M517.0 298.7h-5.5 M329.4 298.7v-5.5M329.4 188.4v5.5 M363.5 298.7v-5.5M363.5 188.4v5.5 M397.6 298.7v-5.5M397.6 188.4v5.5 M431.7 298.7v-5.5M431.7 188.4v5.5 M465.8 298.7v-5.5M465.8 188.4v5.5 M499.9 298.7v-5.5M499.9 188.4v5.5" stroke="#707070" stroke-width="0.9" fill="none"/>
<rect x="312.4" y="188.4" width="204.60" height="110.30" fill="none" stroke="#707070" stroke-width="1.15"/>
<g clip-path="url(#c3)" fill="none" stroke-width="1.7" stroke-linejoin="round" stroke-linecap="round" transform="translate(0,0)">
<path d="M312.40,297.50 C321.60,297.50 330.80,297.50 340.00,297.50 C342.00,297.50 344.00,298.30 346.00,298.30 C403.00,298.30 460.00,298.30 517.00,298.30" stroke="#9400d3"/>
<path d="M337.70,183.00 C337.77,184.80 337.83,186.95 337.90,188.40 C339.07,213.75 340.23,223.37 341.40,246.00 C342.10,259.58 342.80,286.15 343.50,292.90 C343.97,297.40 344.43,297.40 344.90,297.40 C345.90,297.40 346.90,280.75 347.90,275.30 C348.90,269.85 349.90,264.70 350.90,264.70 C351.27,264.70 351.63,264.70 352.00,265.60 C352.83,267.65 353.67,282.40 354.50,282.40 C355.83,282.40 357.17,258.50 358.50,258.50 C359.40,258.50 360.30,283.76 361.20,291.20 C361.67,295.06 362.13,296.30 362.60,297.40 C363.07,298.50 363.53,298.50 364.00,298.50 C372.00,298.50 380.00,298.50 388.00,298.50 C388.67,298.50 389.33,290.68 390.00,285.00 C390.80,278.18 391.60,260.30 392.40,260.30 C392.97,260.30 393.53,261.11 394.10,263.80 C395.57,270.76 397.03,290.63 398.50,296.50 C399.00,298.50 399.50,298.50 400.00,298.50 C417.73,298.50 435.47,298.50 453.20,298.30 C454.40,298.29 455.60,290.14 456.80,289.40 C458.27,288.50 459.73,288.50 461.20,288.50 C462.37,288.50 463.53,292.04 464.70,293.80 C465.30,294.70 465.90,296.50 466.50,296.50 C467.37,296.50 468.23,290.95 469.10,290.30 C470.27,289.42 471.43,289.60 472.60,289.40 C473.50,289.25 474.40,288.50 475.30,288.50 C476.17,288.50 477.03,294.38 477.90,296.50 C478.27,297.40 478.63,298.50 479.00,298.50 C481.87,298.50 484.73,298.38 487.60,297.80 C489.37,297.44 491.13,297.35 492.90,296.10 C494.67,294.85 496.43,292.33 498.20,290.30 C499.67,288.61 501.13,286.41 502.60,285.00 C503.80,283.84 505.00,283.14 506.20,282.40 C507.37,281.68 508.53,281.36 509.70,280.60 C511.17,279.64 512.63,278.21 514.10,277.10 C515.07,276.37 516.03,275.70 517.00,275.00" stroke="#00936b"/>
<path d="M312.40,296.00 C318.27,296.17 324.13,296.17 330.00,296.50 C334.00,296.72 338.00,297.50 342.00,297.50 C344.67,297.50 347.33,297.17 350.00,297.00 C352.67,296.83 355.33,296.50 358.00,296.50 C360.33,296.50 362.67,298.30 365.00,298.30 C411.67,298.30 458.33,298.30 505.00,297.50 C509.00,297.43 513.00,295.97 517.00,295.20" stroke="#e69f00"/>
<path d="M312.40,282.40 C313.97,282.87 315.53,283.03 317.10,283.80 C318.27,284.37 319.43,285.57 320.60,286.20 C321.77,286.83 322.93,287.07 324.10,287.60 C325.87,288.40 327.63,289.55 329.40,290.30 C331.17,291.05 332.93,291.56 334.70,292.10 C336.17,292.55 337.63,292.24 339.10,293.30 C340.27,294.14 341.43,296.34 342.60,297.40 C343.07,297.82 343.53,298.30 344.00,298.30 C353.33,298.30 362.67,298.30 372.00,298.00 C373.00,297.97 374.00,293.00 375.00,293.00 C376.00,293.00 377.00,295.00 378.00,295.00 C379.33,295.00 380.67,293.00 382.00,293.00 C383.67,293.00 385.33,296.00 387.00,296.00 C388.00,296.00 389.00,294.83 390.00,293.00 C391.00,291.17 392.00,285.00 393.00,285.00 C394.00,285.00 395.00,289.78 396.00,292.00 C397.00,294.22 398.00,298.30 399.00,298.30 C421.50,298.30 444.00,298.30 466.50,298.30 C467.37,298.30 468.23,288.50 469.10,288.50 C470.00,288.50 470.90,291.20 471.80,291.20 C472.67,291.20 473.53,283.07 474.40,280.60 C475.30,278.03 476.20,276.20 477.10,276.20 C477.97,276.20 478.83,279.84 479.70,282.40 C480.87,285.84 482.03,291.77 483.20,294.70 C483.80,296.20 484.40,297.40 485.00,297.40 C485.60,297.40 486.20,296.76 486.80,292.90 C487.37,289.26 487.93,281.02 488.50,275.30 C489.10,269.24 489.70,263.81 490.30,257.60 C490.53,255.19 490.77,252.53 491.00,250.00" stroke="#f0e442"/>
<path d="M312.40,297.80 L517.00,298.30" stroke="#0072b2"/>
<path d="M312.40,297.50 C323.27,297.67 334.13,298.00 345.00,298.00 C346.87,298.00 348.73,296.30 350.60,296.30 C351.73,296.30 352.87,298.00 354.00,298.00 C355.20,298.00 356.40,295.40 357.60,295.40 C358.73,295.40 359.87,298.00 361.00,298.00 C364.57,298.00 368.13,298.00 371.70,297.80 C372.87,297.73 374.03,277.10 375.20,277.10 C376.40,277.10 377.60,286.80 378.80,286.80 C379.97,286.80 381.13,276.20 382.30,276.20 C384.07,276.20 385.83,296.10 387.60,296.10 C388.30,296.10 389.00,293.66 389.70,291.20 C390.77,287.46 391.83,276.20 392.90,276.20 C394.77,276.20 396.63,297.80 398.50,297.80 C416.93,297.80 435.37,297.80 453.80,297.80 C454.80,297.80 455.80,292.10 456.80,292.10 C458.27,292.10 459.73,292.10 461.20,292.10 C462.37,292.10 463.53,296.50 464.70,296.50 C465.87,296.50 467.03,293.07 468.20,292.90 C470.27,292.60 472.33,292.60 474.40,292.60 C475.57,292.60 476.73,297.80 477.90,297.80 C486.93,297.80 495.97,297.80 505.00,297.80 C506.87,297.80 508.73,296.85 510.60,296.50 C512.73,296.10 514.87,295.90 517.00,295.60" stroke="#e51e10"/>
</g>
<rect x="470" y="188.4" width="47.0" height="69.6" fill="#fff"/>
<path d="M470 188.4H517.0V259.0" fill="none" stroke="#707070" stroke-width="1.15"/>
<path d="M311.8 298.9H517.6" fill="none" stroke="#000" stroke-opacity="0.45" stroke-width="1.1"/>
<text x="304.3" y="191.9" font-size="13.3" text-anchor="end" fill="#111" stroke="#111" stroke-width="0.1">16</text>
<text x="304.3" y="219.6" font-size="13.3" text-anchor="end" fill="#111" stroke="#111" stroke-width="0.1">12</text>
<text x="304.3" y="247.2" font-size="13.3" text-anchor="end" fill="#111" stroke="#111" stroke-width="0.1">8</text>
<text x="304.3" y="274.9" font-size="13.3" text-anchor="end" fill="#111" stroke="#111" stroke-width="0.1">4</text>
<text x="304.3" y="302.5" font-size="13.3" text-anchor="end" fill="#111" stroke="#111" stroke-width="0.1">0</text>
<text x="329.1" y="320.4" font-size="13.3" text-anchor="middle" fill="#111" stroke="#111" stroke-width="0.1">-1</text>
<text x="365.7" y="320.4" font-size="13.3" text-anchor="middle" fill="#111" stroke="#111" stroke-width="0.1">0</text>
<text x="400.0" y="320.4" font-size="13.3" text-anchor="middle" fill="#111" stroke="#111" stroke-width="0.1">1</text>
<text x="433.5" y="320.4" font-size="13.3" text-anchor="middle" fill="#111" stroke="#111" stroke-width="0.1">2</text>
<text x="468.4" y="320.4" font-size="13.3" text-anchor="middle" fill="#111" stroke="#111" stroke-width="0.1">3</text>
<text x="502.8" y="320.4" font-size="13.3" text-anchor="middle" fill="#111" stroke="#111" stroke-width="0.1">4</text>
<text transform="translate(277.5,247.7) rotate(-90)" x="0" y="0" font-size="12.5" font-weight="bold" text-anchor="middle" fill="#111" textLength="61" lengthAdjust="spacingAndGlyphs">DOS (a.u.)</text>
<text x="384.5" y="335.3" font-size="12.5" font-weight="bold" fill="#111" textLength="71.2" lengthAdjust="spacingAndGlyphs">Energy (eV)</text>
<text x="400.7" y="184.7" font-size="10.7" font-weight="bold" fill="#111" textLength="30.5" lengthAdjust="spacingAndGlyphs">I<tspan font-size="7.5" dy="2.8">i</tspan><tspan dy="-2.8">:TiO</tspan><tspan font-size="7.5" dy="2.8">2</tspan></text>
<text x="408.9" y="246.2" font-size="11.3" font-weight="bold" fill="#111" textLength="14.2" lengthAdjust="spacingAndGlyphs">(d)</text>
<text x="486.2" y="196.0" font-size="8.3" text-anchor="end" fill="#111" stroke="#111" stroke-width="0.1">O-s</text>
<path d="M489.9 193.9H513.2" stroke="#9400d3" stroke-width="1.3"/>
<text x="486.2" y="205.9" font-size="8.3" text-anchor="end" fill="#111" stroke="#111" stroke-width="0.1">O-p</text>
<path d="M489.9 203.8H513.2" stroke="#00936b" stroke-width="1.3"/>
<text x="486.2" y="215.8" font-size="8.3" text-anchor="end" fill="#111" stroke="#111" stroke-width="0.1">Ti-s</text>
<path d="M489.9 213.7H513.2" stroke="#56b4e9" stroke-width="1.3"/>
<text x="486.2" y="225.7" font-size="8.3" text-anchor="end" fill="#111" stroke="#111" stroke-width="0.1">Ti-p</text>
<path d="M489.9 223.6H513.2" stroke="#e69f00" stroke-width="1.3"/>
<text x="486.2" y="235.6" font-size="8.3" text-anchor="end" fill="#111" stroke="#111" stroke-width="0.1">Ti-d</text>
<path d="M489.9 233.5H513.2" stroke="#f0e442" stroke-width="1.3"/>
<text x="486.2" y="245.5" font-size="8.3" text-anchor="end" fill="#111" stroke="#111" stroke-width="0.1"><tspan font-family="Liberation Serif">I</tspan>-s</text>
<path d="M489.9 243.4H513.2" stroke="#0072b2" stroke-width="1.3"/>
<text x="486.2" y="255.4" font-size="8.3" text-anchor="end" fill="#111" stroke="#111" stroke-width="0.1"><tspan font-family="Liberation Serif">I</tspan>-p</text>
<path d="M489.9 253.3H513.2" stroke="#e51e10" stroke-width="1.3"/>
</svg></body></html>
